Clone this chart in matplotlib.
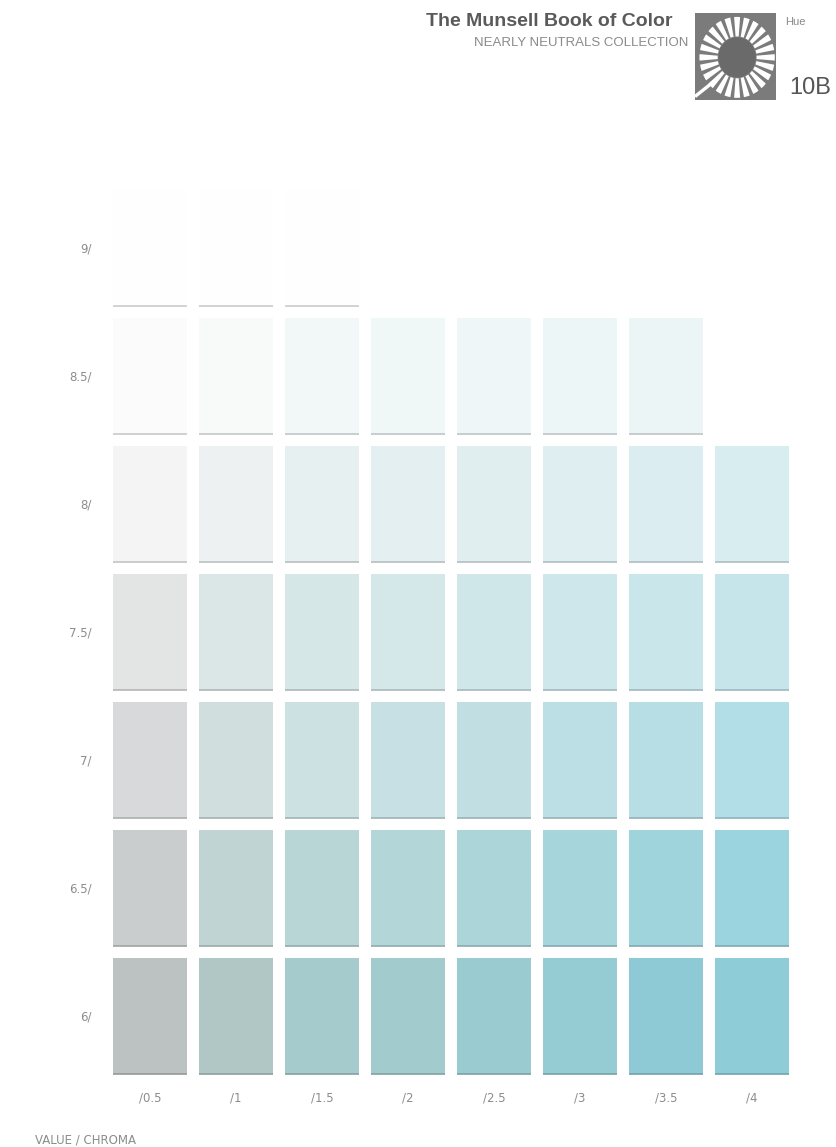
import numpy as np
import matplotlib
matplotlib.use('Agg')
import matplotlib.pyplot as plt
from matplotlib.patches import Wedge, Circle
from matplotlib.colors import to_rgb

# Munsell 10B, nearly neutrals page
values = [9, 8.5, 8, 7.5, 7, 6.5, 6]
value_labels = ['9/', '8.5/', '8/', '7.5/', '7/', '6.5/', '6/']
chromas = [0.5, 1, 1.5, 2, 2.5, 3, 3.5, 4]
chroma_labels = ['/0.5', '/1', '/1.5', '/2', '/2.5', '/3', '/3.5', '/4']

# swatch colours per value row (left -> right); rows may be shorter than 8
row_9 = ['#fefefe', '#fefefe', '#fefefe']
row_85 = ['#fbfbfb', '#f8fafa', '#f2f8f8', '#eff7f7', '#eef6f7', '#edf6f7', '#ecf5f6']
row_8 = ['#f3f4f3', '#edf1f1', '#e6f0f0', '#e3eff0', '#e0eef0', '#deeef1', '#dbedf0', '#d8edf0']
row_75 = ['#e3e4e4', '#dbe6e6', '#d6e7e7', '#d4e7e9', '#d0e7ea', '#cde7eb', '#c9e6eb', '#c5e5eb']
row_7 = ['#d8d9da', '#d0dede', '#cbe1e2', '#c6e0e3', '#c1dfe3', '#bcdfe5', '#b7dee5', '#b2dee7']
row_65 = ['#cacdcd', '#c1d4d4', '#b9d6d7', '#b3d6d9', '#acd5da', '#a6d5dc', '#a0d4dd', '#9bd4df']
row_6 = ['#bcc2c1', '#b1c7c6', '#a6cbcc', '#a1cbcd', '#9acbd0', '#95cbd2', '#8ecad5', '#8ecdd8']
rows = [row_9, row_85, row_8, row_75, row_7, row_65, row_6]

W, H = 836, 1147
fig = plt.figure(figsize=(W / 100, H / 100), dpi=100)
fig.patch.set_facecolor('white')


def fx(px):
    return px / W


def fy(py):
    return 1 - py / H


ax = fig.add_axes([fx(107), fy(1080), (795 - 107) / W, (1080 - 184) / H])
ax.set_xlim(0.25, 4.25)
ax.set_ylim(5.75, 9.25)

sw_w, sw_h = 0.43, 0.45
for v, cols in zip(values, rows):
    xs = chromas[:len(cols)]
    ax.bar(xs, sw_h, bottom=v - sw_h / 2, width=sw_w, color=cols,
           edgecolor='none', zorder=2)
    # slightly darker lower edge of each chip
    for c, col in zip(xs, cols):
        edge = np.array(to_rgb(col)) * 0.8
        ax.hlines(v - sw_h / 2, c - sw_w / 2, c + sw_w / 2, color=edge,
                  lw=1.2, zorder=3)

ax.set_xticks(chromas, chroma_labels)
ax.set_yticks(values, value_labels)
ax.tick_params(length=0, colors='#8c8c8c', labelsize=8.5)
ax.tick_params(axis='x', pad=8)
ax.tick_params(axis='y', pad=11)
for s in ax.spines.values():
    s.set_visible(False)

fig.text(fx(35), fy(1140), 'VALUE / CHROMA', fontsize=8.5, color='#8c8c8c',
         va='center', ha='left')

# header
fig.text(fx(672), fy(22), 'The Munsell Book of Color', fontsize=14,
         fontweight='bold', color='#5a5a5a', ha='right', va='center',
         family='Liberation Sans')
fig.text(fx(688), fy(43), 'NEARLY NEUTRALS COLLECTION', fontsize=9.5,
         color='#8a8a8a', ha='right', va='center', family='Liberation Sans')
fig.text(fx(785), fy(22), 'Hue', fontsize=8, color='#8a8a8a',
         ha='left', va='center', family='Liberation Sans')
fig.text(fx(789), fy(88), '10B', fontsize=17, color='#555555',
         ha='left', va='center', family='Liberation Sans')

# logo
lg = fig.add_axes([fx(695), fy(100), 81 / W, 87 / H])
lg.set_xlim(-1, 1)
lg.set_ylim(-1, 1)
lg.set_facecolor('#7b7b7b')
lg.set_xticks([])
lg.set_yticks([])
for s in lg.spines.values():
    s.set_visible(False)
cx, cy = 0.04, -0.02
for ang in np.arange(0, 360, 15):
    lg.add_patch(Wedge((cx, cy), 0.93, ang - 4.6, ang + 4.6, width=0.45,
                       facecolor='white', edgecolor='none'))
lg.add_patch(Circle((cx, cy), 0.46, facecolor='#6a6a6a', edgecolor='none'))
lg.plot([-1, -0.5], [-0.92, -0.55], color='white', lw=2.4,
        solid_capstyle='butt')

fig.savefig('out.png', dpi=100, facecolor='white')
